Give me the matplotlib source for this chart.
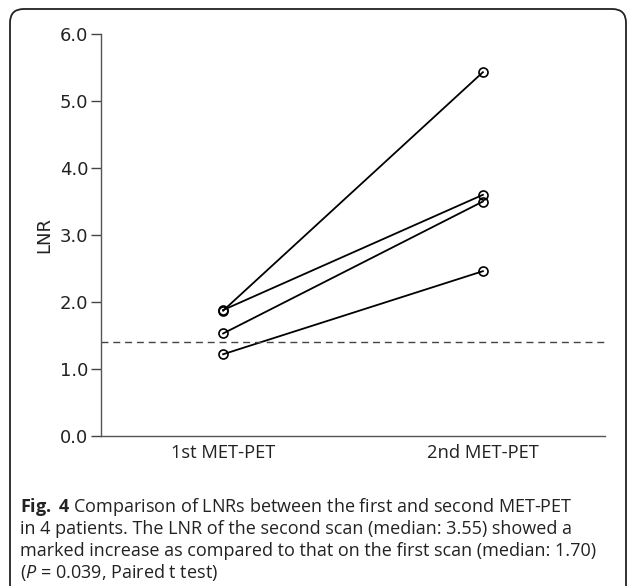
import matplotlib.pyplot as plt
from matplotlib.patches import FancyBboxPatch

# LNR per patient, first and second scan
scans = ['1st MET-PET', '2nd MET-PET']
lnr_first = [1.87, 1.88, 1.53, 1.22]
lnr_second = [5.43, 3.60, 3.50, 2.46]
threshold = 1.40
yticks = [0.0, 1.0, 2.0, 3.0, 4.0, 5.0, 6.0]

caption = [
    r'$\mathbf{Fig.}$ $\mathbf{4}$ Comparison of LNRs between the first and second MET-PET',
    'in 4 patients. The LNR of the second scan (median: 3.55) showed a',
    'marked increase as compared to that on the first scan (median: 1.70)',
    r'($\mathit{P}$ = 0.039, Paired t test)',
]

plt.rcParams['mathtext.fontset'] = 'custom'
plt.rcParams['mathtext.rm'] = 'Open Sans'
plt.rcParams['mathtext.bf'] = 'Open Sans:bold'
plt.rcParams['mathtext.it'] = 'Open Sans:italic'

W, H = 627, 586
fig = plt.figure(figsize=(W / 100, H / 100), dpi=100)

# rounded frame round the figure
frame = FancyBboxPatch((10 / W, -20 / H), 616 / W, (H - 9 + 20) / H,
                       boxstyle='round,pad=0,rounding_size=0.022',
                       transform=fig.transFigure, fill=False,
                       edgecolor='#222222', linewidth=1.3, mutation_aspect=W / H)
fig.patches.append(frame)

ax = fig.add_axes([101 / W, 1 - 436 / H, 504 / W, 402 / H])
for a, b in zip(lnr_first, lnr_second):
    ax.plot([0, 1], [a, b], color='black', linewidth=1.3, marker='o',
            markersize=6.5, markerfacecolor='none', markeredgecolor='black',
            markeredgewidth=1.2)
ax.axhline(threshold, color='#444444', linewidth=1.0, linestyle=(0, (5, 3.5)))

ax.set_xlim(-0.47, 1.47)
ax.set_ylim(0, 6.0)
ax.set_yticks(yticks)
ax.set_yticklabels(['%.1f' % v for v in yticks], fontsize=13, color='#222222')
ax.set_xticks([0, 1])
ax.set_xticklabels(scans, family='Open Sans', fontsize=13.2, color='#222222')
ax.tick_params(axis='x', length=0, pad=6)
ax.tick_params(axis='y', length=7, width=1.0, color='#444444', pad=2)
ax.set_ylabel('LNR', fontsize=13, color='#222222', labelpad=5)
for s in ['top', 'right']:
    ax.spines[s].set_visible(False)
for s in ['left', 'bottom']:
    ax.spines[s].set_color('#555555')
    ax.spines[s].set_linewidth(1.0)

baselines = [512, 534, 556, 578]
for line, yb in zip(caption, baselines):
    fig.text(20 / W, 1 - yb / H, line, family='Open Sans', fontsize=13.0,
             color='#222222', ha='left', va='baseline')

fig.savefig('out.png', dpi=100)
